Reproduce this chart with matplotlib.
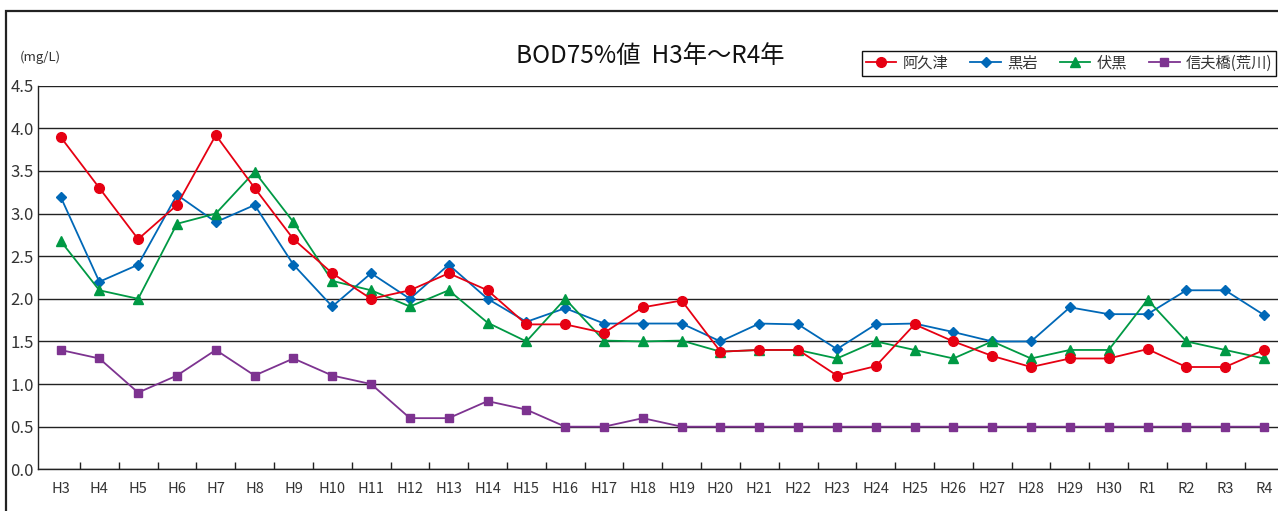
import matplotlib.pyplot as plt
from matplotlib.patches import Rectangle

plt.rcParams['font.family'] = ['Noto Sans CJK JP', 'DejaVu Sans']

# survey years (Heisei -> Reiwa)
years = ['H3', 'H4', 'H5', 'H6', 'H7', 'H8', 'H9', 'H10', 'H11', 'H12',
         'H13', 'H14', 'H15', 'H16', 'H17', 'H18', 'H19', 'H20', 'H21', 'H22',
         'H23', 'H24', 'H25', 'H26', 'H27', 'H28', 'H29', 'H30',
         'R1', 'R2', 'R3', 'R4']

# BOD 75% values (mg/L) per site
akutsu = [3.9, 3.3, 2.7, 3.1, 3.92, 3.3, 2.7, 2.3, 2.0, 2.1,
          2.3, 2.1, 1.7, 1.7, 1.6, 1.9, 1.98, 1.38, 1.4, 1.4,
          1.1, 1.21, 1.7, 1.5, 1.33, 1.2, 1.3, 1.3,
          1.41, 1.2, 1.2, 1.4]
kuroiwa = [3.2, 2.2, 2.4, 3.22, 2.9, 3.1, 2.4, 1.91, 2.3, 2.0,
           2.4, 2.0, 1.73, 1.89, 1.71, 1.71, 1.71, 1.5, 1.71, 1.7,
           1.41, 1.7, 1.71, 1.61, 1.5, 1.5, 1.9, 1.82,
           1.82, 2.1, 2.1, 1.81]
fushiguro = [2.68, 2.1, 2.0, 2.88, 3.0, 3.49, 2.9, 2.21, 2.1, 1.91,
             2.1, 1.72, 1.5, 2.0, 1.51, 1.5, 1.51, 1.38, 1.4, 1.4,
             1.3, 1.5, 1.4, 1.3, 1.5, 1.3, 1.4, 1.4,
             1.99, 1.5, 1.4, 1.3]
shinobu = [1.4, 1.3, 0.9, 1.1, 1.4, 1.1, 1.3, 1.1, 1.0, 0.6,
           0.6, 0.8, 0.7, 0.5, 0.5, 0.6, 0.5, 0.5, 0.5, 0.5,
           0.5, 0.5, 0.5, 0.5, 0.5, 0.5, 0.5, 0.5,
           0.5, 0.5, 0.5, 0.5]

W, H = 1278, 511
fig = plt.figure(figsize=(W / 100, H / 100), dpi=100)

# outer frame, its right and bottom edges run off the sheet
fig.patches.append(Rectangle((6 / W, -0.1), 1.2, (H - 11) / H + 0.1,
                             transform=fig.transFigure, fill=False,
                             edgecolor='#222222', linewidth=1.6))

ax = fig.add_axes([38 / W, 41.7 / H, (1290 - 38) / W, (425.3 - 41.7) / H])
x = list(range(len(years)))

ax.plot(x, akutsu, color='#e60012', marker='o', markersize=7, lw=1.3, label='阿久津', zorder=4)
ax.plot(x, kuroiwa, color='#0068b7', marker='D', markersize=5.5, lw=1.3, label='黒岩', zorder=3)
ax.plot(x, fushiguro, color='#009944', marker='^', markersize=6.5, lw=1.3, label='伏黒', zorder=3)
ax.plot(x, shinobu, color='#7d3390', marker='s', markersize=6, lw=1.3, label='信夫橋(荒川)', zorder=3)

ax.set_xlim(-0.58, 31.67)
ax.set_ylim(0, 4.5)
ax.set_yticks([i * 0.5 for i in range(10)])
ax.set_yticklabels([f'{i * 0.5:.1f}' for i in range(10)])
ax.yaxis.grid(True, color='#222222', linewidth=1.0)
ax.set_axisbelow(True)

ax.set_xticks(x)
ax.set_xticklabels(years)
ax.set_xticks([i + 0.5 for i in range(len(years) - 1)], minor=True)
ax.tick_params(axis='x', which='major', length=0, pad=9, labelsize=10.5, labelcolor='#333333')
ax.tick_params(axis='x', which='minor', direction='in', length=5, width=1, color='#222222')
ax.tick_params(axis='y', length=0, pad=3, labelsize=12, labelcolor='#333333')

for side in ['top', 'right']:
    ax.spines[side].set_visible(False)
for side in ['left', 'bottom']:
    ax.spines[side].set_color('#222222')
    ax.spines[side].set_linewidth(1.0)

fig.text(20 / W, 1 - 57 / H, '(mg/L)', fontsize=9.5, color='#333333', va='center', ha='left')
fig.text(650 / W, 1 - 56 / H, 'BOD75%値  H3年～R4年', fontsize=17.5, color='#111111',
         va='center', ha='center')

fig.legend(loc='upper left', bbox_to_anchor=(862 / W, 1 - 51 / H), ncol=4,
           frameon=True, fancybox=False, edgecolor='#111111', framealpha=1,
           fontsize=11, handlelength=2.0, handletextpad=0.4, columnspacing=1.45,
           borderaxespad=0, borderpad=0.25, labelcolor='#333333')

fig.savefig('out.png', dpi=100)
